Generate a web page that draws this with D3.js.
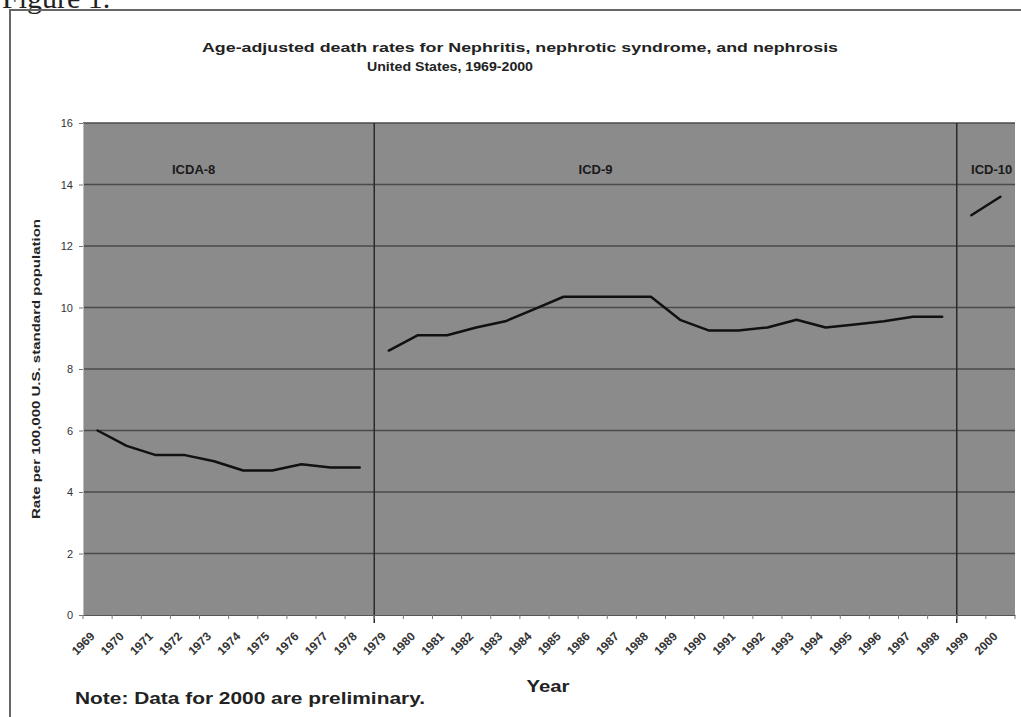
<!DOCTYPE html>
<html>
<head>
<meta charset="utf-8">
<script src="https://cdn.jsdelivr.net/npm/d3@7"></script>
<style>
  html, body { margin: 0; padding: 0; background: #fff; }
  svg { display: block; }
</style>
</head>
<body>
<svg id="chart" width="1021" height="717"></svg>
<script>
const years = d3.range(1969, 2001).map(String);
const yTicks = [0, 2, 4, 6, 8, 10, 12, 14, 16];

const icda8Years = ["1969","1970","1971","1972","1973","1974","1975","1976","1977","1978"];
const icda8Values = [6.0, 5.5, 5.2, 5.2, 5.0, 4.7, 4.7, 4.9, 4.8, 4.8];

const icd9Years = ["1979","1980","1981","1982","1983","1984","1985","1986","1987","1988",
                   "1989","1990","1991","1992","1993","1994","1995","1996","1997","1998"];
const icd9Values = [8.6, 9.1, 9.1, 9.35, 9.55, 9.95, 10.35, 10.35, 10.35, 10.35,
                    9.6, 9.25, 9.25, 9.35, 9.6, 9.35, 9.45, 9.55, 9.7, 9.7];

const icd10Years = ["1999","2000"];
const icd10Values = [13.0, 13.6];

const periodLabels = ["ICDA-8", "ICD-9", "ICD-10"];
const periodLabelYears = ["1972", "1986", "1999"];
const periodLabelBandOffset = [0.8, 0.6, 1.2];
const separatorYears = ["1979", "1999"];

const svg = d3.select("#chart");
const pLeft = 83, pRight = 1015, pTop = 123, pBottom = 615;

const x = d3.scaleBand().domain(years).range([pLeft, pRight]).padding(0);
const y = d3.scaleLinear().domain([0, 16]).range([pBottom, pTop]);
const cx = d => x(d) + x.bandwidth() / 2;

// "Figure 1." heading, clipped at the top as in the scan
svg.append("text").attr("x", 2).attr("y", 8)
  .attr("font-family", "Liberation Serif").attr("font-size", 30).attr("fill", "#222")
  .text("Figure 1.");

// outer frame
svg.append("rect").attr("x", 10).attr("y", 10).attr("width", 1030).attr("height", 730)
  .attr("fill", "none").attr("stroke", "#666").attr("stroke-width", 2);

// title
svg.append("text").attr("x", 520).attr("y", 52).attr("text-anchor", "middle")
  .attr("font-family", "Liberation Sans").attr("font-weight", "bold").attr("font-size", 13)
  .attr("fill", "#222").attr("textLength", 636).attr("lengthAdjust", "spacingAndGlyphs")
  .text("Age-adjusted death rates for Nephritis, nephrotic syndrome, and nephrosis");
svg.append("text").attr("x", 450).attr("y", 71).attr("text-anchor", "middle")
  .attr("font-family", "Liberation Sans").attr("font-weight", "bold").attr("font-size", 13)
  .attr("fill", "#222").attr("textLength", 166).attr("lengthAdjust", "spacingAndGlyphs")
  .text("United States, 1969-2000");

// plot background
svg.append("rect").attr("x", pLeft).attr("y", pTop).attr("width", pRight - pLeft).attr("height", pBottom - pTop)
  .attr("fill", "#8b8b8b");

// gridlines
svg.append("g").selectAll("line").data(yTicks.filter(t => t > 0)).join("line")
  .attr("x1", pLeft).attr("x2", pRight).attr("y1", d => y(d)).attr("y2", d => y(d))
  .attr("stroke", "#4a4a4a").attr("stroke-width", 1.5);

// separators
svg.append("g").selectAll("line").data(separatorYears).join("line")
  .attr("x1", d => x(d)).attr("x2", d => x(d)).attr("y1", pTop).attr("y2", pBottom + 8)
  .attr("stroke", "#2a2a2a").attr("stroke-width", 1.5);

// y axis
const yAxis = svg.append("g").attr("transform", `translate(${pLeft},0)`)
  .call(d3.axisLeft(y).tickValues(yTicks).tickSize(4).tickPadding(6));
yAxis.select(".domain").attr("stroke", "#bbb");
yAxis.selectAll(".tick line").attr("stroke", "#777");
yAxis.selectAll("text").attr("font-family", "Liberation Sans").attr("font-size", 11)
  .attr("fill", "#333");

// x axis
const xAxis = svg.append("g").attr("transform", `translate(0,${pBottom})`)
  .call(d3.axisBottom(x).tickSize(0).tickPadding(0));
xAxis.select(".domain").attr("stroke", "#555");
xAxis.selectAll(".tick line").remove();
xAxis.selectAll(".tick text")
  .attr("font-family", "Liberation Sans").attr("font-weight", "bold").attr("font-size", 12)
  .attr("fill", "#333").attr("text-anchor", "end")
  .attr("transform", "translate(-5,19) rotate(-45)").attr("dy", "0.35em").attr("y", 0);
// tick marks at band boundaries
svg.append("g").selectAll("line").data(years.concat(["end"])).join("line")
  .attr("x1", d => d === "end" ? pRight : x(d)).attr("x2", d => d === "end" ? pRight : x(d))
  .attr("y1", pBottom).attr("y2", pBottom + 4).attr("stroke", "#777");

// y label
svg.append("text").attr("transform", "translate(40,369) rotate(-90)").attr("text-anchor", "middle")
  .attr("font-family", "Liberation Sans").attr("font-weight", "bold").attr("font-size", 11)
  .attr("fill", "#222").attr("textLength", 300).attr("lengthAdjust", "spacingAndGlyphs")
  .text("Rate per 100,000 U.S. standard population");

// x label
svg.append("text").attr("x", 548).attr("y", 692).attr("text-anchor", "middle")
  .attr("font-family", "Liberation Sans").attr("font-weight", "bold").attr("font-size", 17)
  .attr("fill", "#222").attr("textLength", 43).attr("lengthAdjust", "spacingAndGlyphs").text("Year");

// note
svg.append("text").attr("x", 75).attr("y", 704)
  .attr("font-family", "Liberation Sans").attr("font-weight", "bold").attr("font-size", 17)
  .attr("fill", "#222").attr("textLength", 350).attr("lengthAdjust", "spacingAndGlyphs")
  .text("Note: Data for 2000 are preliminary.");

// period labels
svg.append("g").selectAll("text").data(periodLabels).join("text")
  .attr("x", (d, i) => x(periodLabelYears[i]) + x.bandwidth() * periodLabelBandOffset[i])
  .attr("y", 174).attr("text-anchor", "middle")
  .attr("font-family", "Liberation Sans").attr("font-weight", "bold").attr("font-size", 13)
  .attr("fill", "#1a1a1a").text(d => d);

// lines
const line = d3.line().x(d => cx(d[0])).y(d => y(d[1]));
const segs = [
  d3.zip(icda8Years, icda8Values),
  d3.zip(icd9Years, icd9Values),
  d3.zip(icd10Years, icd10Values)
];
svg.append("g").selectAll("path").data(segs).join("path")
  .attr("d", line).attr("fill", "none").attr("stroke", "#111").attr("stroke-width", 2.5)
  .attr("stroke-linejoin", "round").attr("stroke-linecap", "round");
</script>
</body>
</html>
